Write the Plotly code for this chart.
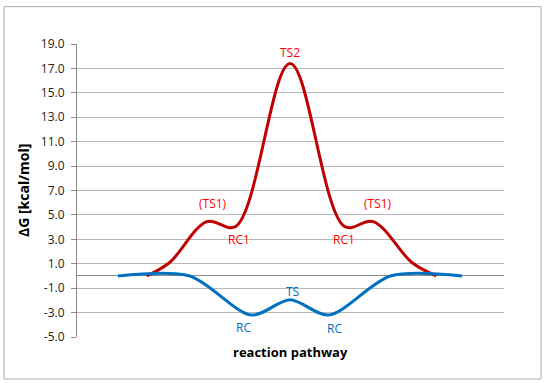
import plotly.graph_objects as go

# Data
red_x = [1, 1.8, 3.1, 4.1, 6, 7.9, 8.9, 10.25, 11.1]
red_y = [0, 1.1, 4.45, 4.05, 17.4, 4.05, 4.45, 1.1, 0]
blue_x = [0, 2.5, 4.65, 6, 7.35, 9.5, 12]
blue_y = [0, 0, -3.2, -1.95, -3.2, 0, 0]

# labels: (point index, text, xshift, yshift)
red_labels = [(2, "(TS1)", 6, 18), (3, "RC1", 3, -13), (4, "TS2", 0, 11),
              (5, "RC1", -1, -13), (6, "(TS1)", 5, 18)]
blue_labels = [(2, "RC", -8, -12), (3, "TS", 2, 8), (4, "RC", 6, -13)]

yticks = [-5, -3, -1, 1, 3, 5, 7, 9, 11, 13, 15, 17, 19]

FONT = "Open Sans"
RED_LINE = "#C00000"
RED_TEXT = "#FF0000"
BLUE = "#0070C0"

fig = go.Figure()
fig.add_trace(go.Scatter(x=red_x, y=red_y, mode="lines",
                         line=dict(color=RED_LINE, width=3, shape="spline", smoothing=1.0)))
fig.add_trace(go.Scatter(x=blue_x, y=blue_y, mode="lines",
                         line=dict(color=BLUE, width=3, shape="spline", smoothing=0.85)))

ann = []
for i, t, dx, dy in red_labels:
    ann.append(dict(x=red_x[i], y=red_y[i], text=t, showarrow=False, xshift=dx, yshift=dy,
                    font=dict(family=FONT, size=12, color=RED_TEXT)))
for i, t, dx, dy in blue_labels:
    ann.append(dict(x=blue_x[i], y=blue_y[i], text=t, showarrow=False, xshift=dx, yshift=dy,
                    font=dict(family=FONT, size=12, color=BLUE)))
ann.append(dict(xref="paper", yref="paper", x=0, y=0.5, xanchor="right", yanchor="middle",
                xshift=-42, text="<b>ΔG [kcal/mol]</b>", textangle=-90, showarrow=False,
                font=dict(family=FONT, size=14, color="#000000")))
ann.append(dict(xref="paper", yref="paper", x=(290 - 77) / 427, y=0, xanchor="center", yanchor="middle",
                yshift=-15, text="<b>reaction pathway</b>", showarrow=False,
                font=dict(family=FONT, size=13, color="#000000")))

fig.update_layout(
    width=550, height=383,
    margin=dict(l=77, r=46, t=44, b=46),
    paper_bgcolor="white", plot_bgcolor="white",
    showlegend=False,
    annotations=ann,
    shapes=[dict(type="rect", xref="paper", yref="paper",
                 x0=-0.171, x1=1.0867, y0=-0.1435, y1=1.1274,
                 line=dict(color="#ababab", width=1), layer="below")],
    xaxis=dict(range=[-1.43, 13.46], showgrid=False, showticklabels=False, ticks="",
               zeroline=False, showline=False, fixedrange=True),
    yaxis=dict(range=[-5, 19], tickmode="array", tickvals=yticks,
               ticktext=[f"{v:.1f}" for v in yticks],
               showgrid=True, gridcolor="#b8b8b8", gridwidth=1,
               zeroline=True, zerolinecolor="#8c8c8c", zerolinewidth=1,
               showline=True, linecolor="#8c8c8c", linewidth=1,
               ticks="outside", ticklen=5, tickcolor="#8c8c8c",
               tickfont=dict(family=FONT, size=12, color="#222222"),
               ticklabelstandoff=4, fixedrange=True),
)

fig.write_html("out.html", config={"displayModeBar": False},
               post_script="document.body.style.margin='0';")
